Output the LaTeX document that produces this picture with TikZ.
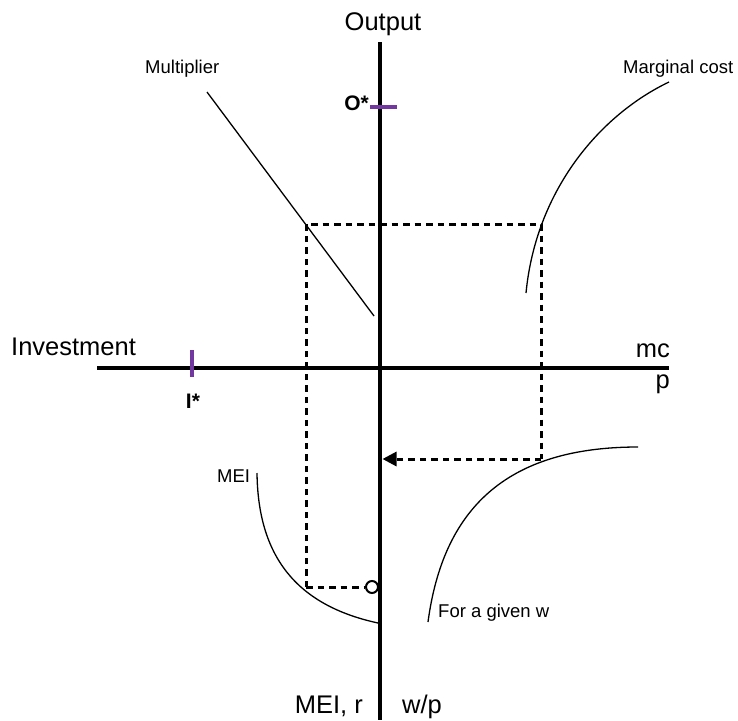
\documentclass[tikz,border=0pt]{standalone}
\usepackage{fontspec}
\setmainfont{Liberation Sans}
\usepackage{xcolor}
\usetikzlibrary{arrows.meta,positioning,calc}
\definecolor{ink}{HTML}{000000}
\definecolor{tickviolet}{HTML}{7238A0}
\tikzset{
  >=Latex,
  every node/.style={text=ink,inner sep=0pt},
  axislabel/.style={font=\fontsize{25.5}{25.5}\selectfont},
  curvelabel/.style={font=\fontsize{18.5}{18.5}\selectfont},
  starlabel/.style={font=\fontsize{21}{21}\selectfont\bfseries},
  axisline/.style={line width=4.8pt,draw=ink},
  tickmark/.style={line width=4.8pt,draw=tickviolet},
  curve/.style={line width=1.3pt,draw=ink},
  guide/.style={line width=3pt,draw=ink,dash pattern=on 6.5pt off 5pt},
  guidearr/.style={guide,-{Triangle[length=14pt,width=14pt]}},
  openpt/.style={circle,draw=ink,line width=2pt,fill=white,minimum size=12pt}
}
\begin{document}
\begin{tikzpicture}[x=1pt,y=-1pt]
  \useasboundingbox (0,0) rectangle (738,720);

  % axes
  \coordinate (outTop) at (380,42);
  \coordinate (outBot) at (380,720);
  \coordinate (invLeft) at (97,368);
  \coordinate (invRight) at (669,368);
  \draw[axisline] (outTop) -- (outBot);
  \draw[axisline] (invLeft) -- (invRight);

  % axis labels
  \node[axislabel,anchor=base] (outLbl) at (383,30) {Output};
  \node[axislabel,anchor=base west] (invLbl) at (11,355) {Investment};
  \node[axislabel,anchor=base east] (mcLbl) at (670,357) {mc};
  \node[axislabel,anchor=base east] (pLbl) at (670,388) {p};
  \node[axislabel,anchor=base east] (meirLbl) at (363,713) {MEI, r};
  \node[axislabel,anchor=base west] (wpLbl) at (402,713) {w/p};

  % equilibrium ticks
  \coordinate (oTickL) at (370,107);
  \coordinate (oTickR) at (397,107);
  \coordinate (iTickT) at (192,350);
  \coordinate (iTickB) at (192,377);
  \draw[tickmark] (oTickL) -- (oTickR);
  \draw[tickmark] (iTickT) -- (iTickB);
  \node[starlabel,anchor=base east] (oStar) at (369,110) {O*};
  \node[starlabel,anchor=base] (iStar) at (193,408) {I*};

  % curves
  \coordinate (multTop) at (207,92);
  \coordinate (multBot) at (374,316);
  \draw[curve] (multTop) -- (multBot);
  \node[curvelabel,anchor=base west] (multLbl) at (145,73) {Multiplier};

  \coordinate (mcBot) at (526,293);
  \coordinate (mcTop) at (669,82);
  \draw[curve] (mcBot) .. controls (536,190) and (600,115) .. (mcTop);
  \node[curvelabel,anchor=base west] (mcCurveLbl) at (623,73) {Marginal cost};

  \coordinate (prodBot) at (428,622);
  \coordinate (prodTop) at (638,447);
  \draw[curve] (prodBot) .. controls (443,510) and (505,447) .. (prodTop);
  \node[curvelabel,anchor=base west] (prodLbl) at (438,617) {For a given w};

  \coordinate (meiTop) at (257,473);
  \coordinate (meiBot) at (378,623);
  \draw[curve] (meiTop) .. controls (258,555) and (295,605) .. (meiBot);
  \node[curvelabel,anchor=base west] (meiLbl) at (217,482) {MEI};

  % dashed guides
  \coordinate (boxTL) at (306,224);
  \coordinate (boxTR) at (541,224);
  \coordinate (boxR) at (541,459);
  \coordinate (boxL) at (306,587);
  \coordinate (wpHit) at (382.5,459);
  \node[openpt] (rPoint) at (372,587) {};
  \draw[guide] (boxL) -- (boxTL) -- (boxTR) -- (boxR);
  \draw[guidearr] (boxR) -- (wpHit);
  \draw[guide] (boxL) -- (rPoint);
\end{tikzpicture}
\end{document}
